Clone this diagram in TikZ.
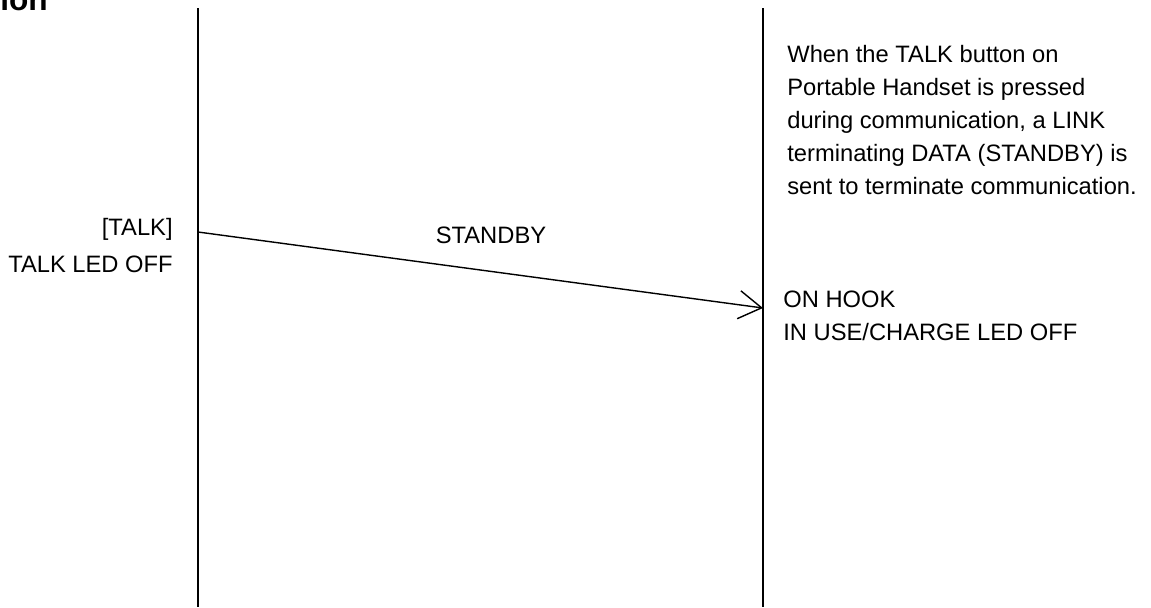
\documentclass[tikz,border=0pt]{standalone}
\usepackage{fontspec}
\setmainfont{Liberation Sans}
\usetikzlibrary{arrows.meta}
\tikzset{
  lifeline/.style={line width=0.8pt},
  msg/.style={line width=0.8pt, -{Straight Barb[length=13pt, width=16pt, line width=0.8pt]}},
  txt/.style={inner sep=0pt, font=\fontsize{13.5}{18.8}\selectfont}
}

\begin{document}
\begin{tikzpicture}
    \useasboundingbox (0, 0) rectangle (23.02, -12.14);
    \node[anchor=base west, inner sep=0pt, font=\fontsize{18}{20}\bfseries] (head) at (0, -0.2) {ion};
    \coordinate (lt) at (3.96, -0.16);
    \coordinate (lb) at (3.96, -12.14);
    \coordinate (rt) at (15.26, -0.16);
    \coordinate (rb) at (15.26, -12.14);
    \draw[lifeline] (lt) -- (lb);
    \draw[lifeline] (rt) -- (rb);
    \coordinate (talk) at (3.96, -4.64);
    \coordinate (hook) at (15.26, -6.16);
    \draw[msg] (talk) -- (hook);
    \node[txt, anchor=base east] (key) at (3.46, -4.70) {[TALK]};
    \node[txt, anchor=base east] (ledoff) at (3.46, -5.44) {TALK LED OFF};
    \node[txt, anchor=base] (standby) at (9.82, -4.86) {STANDBY};
    \node[txt, anchor=base west] (onhook) at (15.66, -6.14) {ON HOOK};
    \node[txt, anchor=base west] (inuse) at (15.66, -6.80) {IN USE/CHARGE LED OFF};
    \node[txt, anchor=north west, align=left] (note) at (15.74, -0.9) {When the TALK button on\\ Portable Handset is pressed\\ during communication, a LINK\\ terminating DATA (STANDBY) is\\ sent to terminate communication.};
  \end{tikzpicture}
\end{document}
